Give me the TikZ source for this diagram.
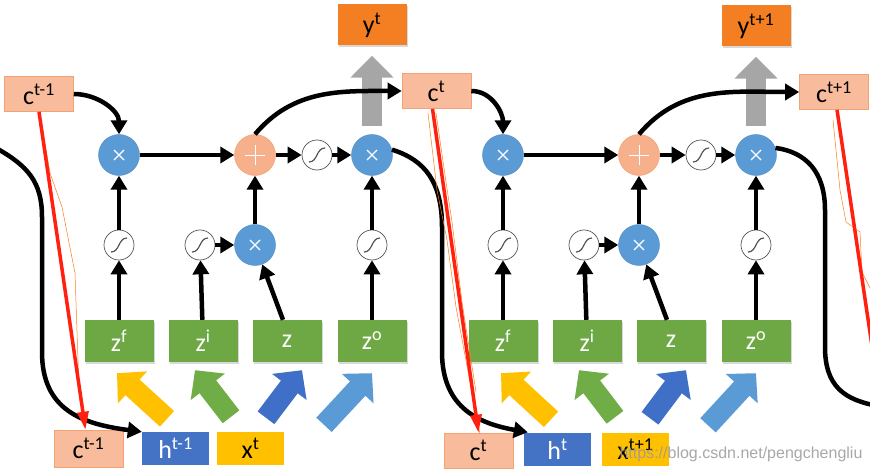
\documentclass[tikz,border=0pt]{standalone}
\usepackage{fontspec}
\setmainfont{Carlito}
\newfontfamily\wmfont{Liberation Sans}
\usetikzlibrary{positioning, arrows.meta, shadows}

\definecolor{cfill}{HTML}{F8BB9C}
\definecolor{cedge}{HTML}{F2A273}
\definecolor{yfill}{HTML}{F47E22}
\definecolor{gfill}{HTML}{6EA845}
\definecolor{hfill}{HTML}{4472C4}
\definecolor{xfill}{HTML}{FFC000}
\definecolor{mfill}{HTML}{5B9BD5}
\definecolor{pfill}{HTML}{F7B08C}
\definecolor{pedge}{HTML}{F39A6B}
\definecolor{sedge}{HTML}{555555}
\definecolor{garrow}{HTML}{A6A6A6}
\definecolor{ayellow}{HTML}{FFC000}
\definecolor{agreen}{HTML}{70AD47}
\definecolor{ablue}{HTML}{3F6FC6}
\definecolor{alblue}{HTML}{5B9BD5}
\definecolor{redmk}{HTML}{FF2010}
\definecolor{scrib}{HTML}{FF7A1A}

\newcommand{\lbl}{\fontsize{26}{28}\selectfont}
\newcommand{\tsup}[1]{\textsuperscript{#1}}

\tikzset{
    every node/.style={inner sep=0pt}, % sizes are given per style
    cbox/.style={draw=cedge, line width=0.6pt, fill=cfill, minimum width=69pt, minimum height=35pt, font=\lbl},
    ybox/.style={fill=yfill, minimum width=69pt, minimum height=41pt, font=\lbl,
        drop shadow={shadow xshift=1pt, shadow yshift=-1.5pt, opacity=0.3}},
    gate/.style={fill=gfill, text=white, minimum width=69pt, minimum height=42pt, font=\lbl,
        drop shadow={shadow xshift=1pt, shadow yshift=-1.5pt, opacity=0.3}},
    hbox/.style={fill=hfill, text=white, minimum width=67pt, minimum height=33pt, font=\lbl},
    xbox/.style={fill=xfill, minimum width=67pt, minimum height=33pt, font=\lbl},
    mult/.style={circle, fill=mfill, draw=mfill!90!black, minimum size=41pt,
        path picture={\draw[white, line width=1.1pt]
            ([shift={(-5pt,-5pt)}]path picture bounding box.center) -- ([shift={(5pt,5pt)}]path picture bounding box.center)
            ([shift={(-5pt,5pt)}]path picture bounding box.center) -- ([shift={(5pt,-5pt)}]path picture bounding box.center);}},
    plus/.style={circle, fill=pfill, draw=pedge, minimum size=41pt,
        path picture={\draw[white, line width=0.8pt]
            ([xshift=-10pt]path picture bounding box.center) -- ([xshift=10pt]path picture bounding box.center)
            ([yshift=-10pt]path picture bounding box.center) -- ([yshift=10pt]path picture bounding box.center);}},
    sig/.style={circle, fill=white, draw=sedge, line width=0.7pt, minimum size=30pt,
        path picture={\draw[line width=1.2pt]
            ([shift={(-8pt,-7pt)}]path picture bounding box.center) .. controls ([shift={(1pt,-7pt)}]path picture bounding box.center)
            and ([shift={(-1pt,7pt)}]path picture bounding box.center) .. ([shift={(8pt,7pt)}]path picture bounding box.center);}},
    bigarrow/.style={line width=21pt, draw=#1, -{Triangle[length=21pt, width=42pt]}},
    outarrow/.style={line width=20pt, draw=garrow, -{Triangle[length=22pt, width=42pt]}},
    redmark/.style={line width=3.5pt, draw=redmk, -{Triangle[length=18pt, width=11pt]}},
    scribble/.style={draw=scrib, line width=0.5pt},
}
\tikzstyle{flow} = [line width=4.5pt, -{Triangle[length=14pt, width=16pt]}]
\tikzstyle{flowline} = [line width=4.5pt]

\begin{document}
\begin{tikzpicture}[x=1pt, y=1pt]
    \clip (0,0) rectangle (870,472);
    \fill[white] (0,0) rectangle (870,472);

    % memorie e uscite
    \node[cbox] (cprev) at (39,378) {c\tsup{t-1}};
    \node[cbox] (ct) at (436.5,381) {c\tsup{t}};
    \node[cbox] (cnext) at (834,380) {c\tsup{t+1}};
    \node[ybox] (ya) at (372,447) {y\tsup{t}};
    \node[ybox] (yb) at (756,446) {y\tsup{t+1}};

    % ingressi
    \node[cbox, minimum height=37pt] (cpb) at (88.5,23.5) {c\tsup{t-1}};
    \node[hbox] (hprev) at (175.5,23.5) {h\tsup{t-1}};
    \node[xbox] (xt) at (250.5,23.5) {x\tsup{t}};
    \node[cbox] (ctb) at (478.5,21.5) {c\tsup{t}};
    \node[hbox] (ht) at (557.5,23) {h\tsup{t}};
    \node[xbox] (xn) at (635.5,23) {x\tsup{t+1}};

    % cella t
    \node[mult] (m1a) at (119,317) {};
    \node[plus] (pa) at (255,317) {};
    \node[sig] (sca) at (317,317) {};
    \node[mult] (m2a) at (372,317) {};
    \node[sig] (sfa) at (119,227) {};
    \node[sig] (sia) at (200,227) {};
    \node[mult] (mia) at (255,227) {};
    \node[sig] (soa) at (372,227) {};
    \node[gate] (zfa) at (119,131) {z\tsup{f}};
    \node[gate] (zia) at (203,131) {z\tsup{i}};
    \node[gate] (za) at (287,131) {z};
    \node[gate] (zoa) at (372,131) {z\tsup{o}};

    % cella t+1
    \node[mult] (m1b) at (503,317) {};
    \node[plus] (pb) at (639,317) {};
    \node[sig] (scb) at (701,317) {};
    \node[mult] (m2b) at (756,317) {};
    \node[sig] (sfb) at (503,227) {};
    \node[sig] (sib) at (584,227) {};
    \node[mult] (mib) at (639,227) {};
    \node[sig] (sob) at (756,227) {};
    \node[gate] (zfb) at (503,131) {z\tsup{f}};
    \node[gate] (zib) at (587,131) {z\tsup{i}};
    \node[gate] (zb) at (671,131) {z};
    \node[gate] (zob) at (756,131) {z\tsup{o}};

    \coordinate (hin) at (-4,324);
    \coordinate (hout) at (878,66);
    \coordinate (cout) at (880,72);

    % frecce grandi
    \draw[bigarrow=ayellow] ([shift={(-8.5,13)}]hprev.north) -- ([shift={(-2,-11)}]zfa.south);
    \draw[bigarrow=agreen] ([shift={(-19.5,15)}]xt.north) -- ([shift={(-8,-8)}]zia.south);
    \draw[bigarrow=ablue] ([shift={(15.5,14)}]xt.north) -- ([shift={(15,-8)}]za.south);
    \draw[bigarrow=alblue] ([shift={(73.5,7)}]xt.north) -- ([shift={(0,-11)}]zoa.south);
    \draw[bigarrow=ayellow] ([shift={(-6.5,13)}]ht.north) -- ([shift={(-2,-11)}]zfb.south);
    \draw[bigarrow=agreen] ([shift={(-20.5,15)}]xn.north) -- ([shift={(-8,-8)}]zib.south);
    \draw[bigarrow=ablue] ([shift={(14.5,14)}]xn.north) -- ([shift={(15,-8)}]zb.south);
    \draw[bigarrow=alblue] ([shift={(72.5,7)}]xn.north) -- ([shift={(0,-11)}]zob.south);
    \draw[outarrow] ([yshift=8pt]m2a.north) -- ([yshift=-10pt]ya.south);
    \draw[outarrow] ([yshift=8pt]m2b.north) -- ([yshift=-10pt]yb.south);

    % transizioni
    \draw[flow] (zfa) -- (sfa);
    \draw[flow] (sfa) -- (m1a);
    \draw[flow] (zia) -- (sia);
    \draw[flow] (sia) -- (mia);
    \draw[flow] ([xshift=-4pt]za.north) -- (mia);
    \draw[flow] (mia) -- (pa);
    \draw[flow] (zoa) -- (soa);
    \draw[flow] (soa) -- (m2a);
    \draw[flow] (m1a) -- (pa);
    \draw[flow] (pa) -- (sca);
    \draw[flow] (sca) -- (m2a);
    \draw[flow] (cprev.east) to[out=0, in=90] (m1a.north);
    \draw[flow] (pa.north) to[out=50, in=180] (ct.west);

    \draw[flow] (zfb) -- (sfb);
    \draw[flow] (sfb) -- (m1b);
    \draw[flow] (zib) -- (sib);
    \draw[flow] (sib) -- (mib);
    \draw[flow] ([xshift=-4pt]zb.north) -- (mib);
    \draw[flow] (mib) -- (pb);
    \draw[flow] (zob) -- (sob);
    \draw[flow] (sob) -- (m2b);
    \draw[flow] (m1b) -- (pb);
    \draw[flow] (pb) -- (scb);
    \draw[flow] (scb) -- (m2b);
    \draw[flow] (ct.east) to[out=0, in=90] (m1b.north);
    \draw[flow] (pb.north) to[out=50, in=180] (cnext.west);

    % h tra le celle
    \draw[flow] (hin) .. controls (28,306) and (42,290) .. (42,255) -- (42,120)
        .. controls (42,62) and (82,48) .. (hprev.north west);
    \draw[flow] (m2a.15) .. controls (425,312) and (442,290) .. (442,245) -- (442,120)
        .. controls (442,62) and (482,48) .. ([xshift=4pt]ht.north west);
    \draw[flowline] (m2b.20) .. controls (806,320) and (825,300) .. (825,262) -- (825,125)
        .. controls (825,85) and (845,72) .. (hout);

    % segni a mano
    \draw[scribble] (40,358) -- (50,299) -- (62,265) -- (75,199) -- (79,82) -- (84,46);
    \draw[redmark] (cprev.south) -- ([xshift=-3pt]cpb.north);
    \draw[scribble] (428,359) -- (437,282) -- (447,232) -- (456,165) -- (470,90) -- (480,38);
    \draw[scribble] (436,359) -- (446,290) -- (452,250) -- (462,170) -- (476,80);
    \draw[redmark] ([xshift=-4pt]ct.south) -- (ctb.north);
    \draw[scribble] (833,352) -- (840,282) -- (846,250) -- (860,240) -- (862,200) -- (872,180);
    \draw[redmark] ([xshift=3pt]cnext.south) -- (cout);

    \node[font=\wmfont\fontsize{16}{16}\selectfont, text=black!40, opacity=0.85] (wm) at (741,18) {https://blog.csdn.net/pengchengliu};
\end{tikzpicture}
\end{document}
